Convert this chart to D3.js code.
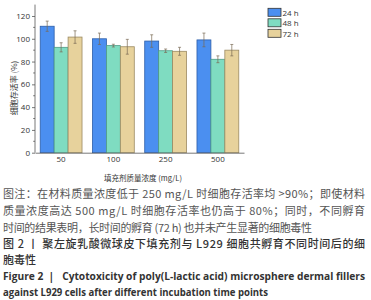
<!DOCTYPE html>
<html>
<head>
<meta charset="utf-8">
<script src="https://cdn.jsdelivr.net/npm/d3@7"></script>
<style>
  body { margin: 0; background: #fff; }
  svg { display: block; }
  .axis text { font-family: "Open Sans", "Liberation Sans", sans-serif; font-size: 8px; fill: #333; }
  .axis path, .axis line { stroke: #555; stroke-width: 0.8; }
</style>
</head>
<body>
<div class="chart"></div>
<script>
const concentrations = ["50", "100", "250", "500"];
const seriesNames = ["24 h", "48 h", "72 h"];
const means24 = [111, 100, 98, 99];
const means48 = [92.5, 94, 89.5, 82];
const means72 = [101.5, 93, 89, 90];
const err24 = [4.5, 5, 5.5, 6];
const err48 = [4, 1.2, 1.5, 3];
const err72 = [5.5, 6.5, 3.5, 5];
const yTicks = [0, 20, 40, 60, 80, 100, 120];
const fills = ["#4b8ff0", "#7fdcc1", "#e7d29c"];
const strokes = ["#2d5ea8", "#4f9c86", "#9b8a62"];

const captionLines = [
  "图注：在材料质量浓度低于 250 mg/L 时细胞存活率均 >90%；即使材料",
  "质量浓度高达 500 mg/L 时细胞存活率也仍高于 80%；同时，不同孵育",
  "时间的结果表明，长时间的孵育 (72 h) 也并未产生显著的细胞毒性"
];
const titleLines = [
  "图 2 丨 聚左旋乳酸微球皮下填充剂与 L929 细胞共孵育不同时间后的细",
  "胞毒性"
];
const engLines = [
  "Figure 2  |   Cytotoxicity of poly(L-lactic acid) microsphere dermal fillers",
  "against L929 cells after different incubation time points"
];

const means = [means24, means48, means72];
const errs = [err24, err48, err72];
const rows = [];
concentrations.forEach((c, i) => {
  seriesNames.forEach((s, j) => {
    rows.push({conc: c, series: s, j: j, val: means[j][i], err: errs[j][i]});
  });
});

const svg = d3.select(".chart").append("svg").attr("width", 371).attr("height", 300);

const x0 = d3.scaleBand().domain(concentrations).range([35, 244]).paddingInner(0.2).paddingOuter(0.1);
const x1 = d3.scaleBand().domain(seriesNames).range([0, x0.bandwidth()]);
const y = d3.scaleLinear().domain([0, 130]).range([152.7, 4.6]);

// bars
svg.append("g").selectAll("rect").data(rows).join("rect")
  .attr("x", d => x0(d.conc) + x1(d.series))
  .attr("y", d => y(d.val))
  .attr("width", x1.bandwidth())
  .attr("height", d => y(0) - y(d.val))
  .attr("fill", d => fills[d.j])
  .attr("stroke", d => strokes[d.j])
  .attr("stroke-width", 0.8);

// error bars
const eb = svg.append("g").attr("stroke", "#7a6a55").attr("stroke-width", 0.7);
rows.forEach(d => {
  const cx = x0(d.conc) + x1(d.series) + x1.bandwidth() / 2;
  eb.append("line").attr("x1", cx).attr("x2", cx).attr("y1", y(d.val + d.err)).attr("y2", y(d.val - d.err));
  eb.append("line").attr("x1", cx - 1.5).attr("x2", cx + 1.5).attr("y1", y(d.val + d.err)).attr("y2", y(d.val + d.err));
  eb.append("line").attr("x1", cx - 1.5).attr("x2", cx + 1.5).attr("y1", y(d.val - d.err)).attr("y2", y(d.val - d.err));
});

// axes
const yAxis = d3.axisLeft(y).tickValues(yTicks).tickSize(3).tickSizeOuter(0).tickPadding(2);
const yAxisDraw = svg.append("g").attr("class", "axis").attr("transform", "translate(35,0)").call(yAxis);
yAxisDraw.select(".domain").attr("d", `M0,${y(130)}V${y(0)}`);
// minor ticks
yAxisDraw.selectAll(".minor").data(d3.range(10, 130, 20)).join("line")
  .attr("class", "minor").attr("x1", -1.8).attr("x2", 0).attr("y1", d => y(d)).attr("y2", d => y(d));

const xAxis = d3.axisBottom(x0).tickSize(0).tickSizeOuter(0).tickPadding(4);
svg.append("g").attr("class", "axis").attr("transform", `translate(0,${y(0)})`).call(xAxis);

// axis titles
svg.append("text")
  .attr("transform", "translate(13,88) rotate(-90)")
  .attr("text-anchor", "middle").attr("dominant-baseline", "central")
  .style("font-family", "'Noto Sans CJK SC', sans-serif").style("font-size", "8px").style("fill", "#333")
  .text("细胞存活率 (%)");
svg.append("text")
  .attr("x", 143).attr("y", 177)
  .attr("text-anchor", "middle").attr("dominant-baseline", "central")
  .style("font-family", "'Noto Sans CJK SC', sans-serif").style("font-size", "7.5px").style("fill", "#333")
  .text("填充剂质量浓度 (mg/L)");

// legend
const legend = svg.append("g");
seriesNames.forEach((s, j) => {
  const cy = 12.3 + j * 10.5;
  legend.append("rect").attr("x", 268).attr("y", cy - 4).attr("width", 13).attr("height", 8)
    .attr("fill", fills[j]).attr("stroke", "#333").attr("stroke-width", 0.8);
  legend.append("text").attr("x", 282.5).attr("y", cy).attr("dominant-baseline", "central")
    .style("font-family", "'Open Sans', sans-serif").style("font-size", "8px").style("fill", "#333")
    .text(s);
});

// caption
const cap = svg.append("g").style("font-family", "'Noto Sans CJK SC', sans-serif");
captionLines.forEach((t, i) => {
  const tx = cap.append("text").attr("x", 3).attr("y", 193.3 + i * 16.6)
    .attr("dominant-baseline", "central")
    .style("font-size", "11px").style("fill", "#555").text(t);
  tx.attr("textLength", i < 2 ? 362 : 309).attr("lengthAdjust", "spacing");
});
titleLines.forEach((t, i) => {
  const tx = cap.append("text").attr("x", 3).attr("y", 242.7 + i * 16.3)
    .attr("dominant-baseline", "central")
    .style("font-size", "11px").style("fill", "#333").style("font-weight", 500).text(t);
  if (i === 0) tx.attr("textLength", 362).attr("lengthAdjust", "spacing");
});
engLines.forEach((t, i) => {
  svg.append("text").attr("x", 3).attr("y", 276 + i * 15.7)
    .attr("dominant-baseline", "central")
    .attr("textLength", i === 0 ? 362 : 265).attr("lengthAdjust", "spacingAndGlyphs")
    .style("font-family", "'Open Sans', sans-serif").style("font-size", "10px")
    .style("font-weight", "bold").style("fill", "#333")
    .style("white-space", "pre")
    .text(t);
});
</script>
</body>
</html>
